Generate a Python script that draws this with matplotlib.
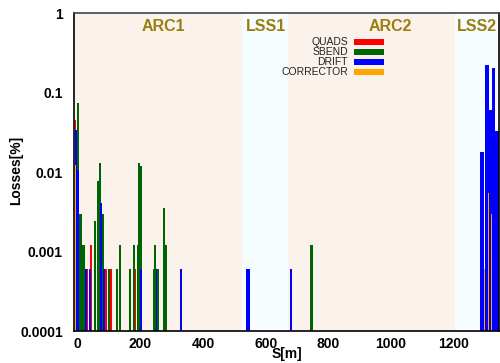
import matplotlib
matplotlib.use('Agg')
import matplotlib.pyplot as plt

# Loss data (S in m, losses in %)
quads_s = [-6.5, 31.5, 43, 91, 107, 185]
quads_v = [0.045, 0.0006, 0.0012, 0.0006, 0.0006, 0.0006]

sbend_s = [3, 10, 19, 55, 65, 72, 82, 101, 126, 136, 168, 180, 192, 196,
           201, 243, 247, 258, 275, 281, 746]
sbend_v = [0.073, 0.003, 0.0012, 0.0024, 0.0078, 0.0131, 0.003, 0.0006,
           0.0006, 0.0012, 0.0006, 0.0012, 0.0012, 0.013, 0.0119, 0.0006,
           0.0012, 0.0006, 0.0035, 0.0012, 0.0012]

drift_s = [-4.5, 3, 27, 39, 75, 84, 203, 252, 330, 540, 546, 680,
           1288, 1294, 1302, 1308, 1314, 1318, 1324, 1329, 1335, 1341]
drift_v = [0.034, 0.0106, 0.0006, 0.0006, 0.0041, 0.0006, 0.0006, 0.0006,
           0.0006, 0.0006, 0.0006, 0.0006,
           0.018, 0.018, 0.22, 0.22, 0.06, 0.06, 0.205, 0.205, 0.033, 0.033]

corr_s = [-7, 1297.5, 1311, 1321]
corr_v = [0.0122, 0.0006, 0.0054, 0.003]

regions = ['ARC1', 'LSS1', 'ARC2', 'LSS2']
region_start = [-11, 525, 670, 1203]
region_end = [525, 670, 1203, 1344]
region_label_s = [273, 600, 996, 1275]

plt.rcParams['font.family'] = ['Liberation Sans', 'DejaVu Sans']

fig = plt.figure(figsize=(5, 3.63), dpi=100)
ax = fig.add_axes([0.148, 0.088, 0.85, 0.876])

# region shading
for name, a, b, xs in zip(regions, region_start, region_end, region_label_s):
    col = '#faf2eb' if name.startswith('ARC') else '#f6fdff'
    ax.axvspan(a, b, color=col, lw=0, zorder=0)
    ax.text(xs, 0.67, name, ha='center', va='center', fontsize=11.5,
            fontweight='bold', color='#9a7e10', zorder=5)

# bars
series = [(quads_s, quads_v, '#ff0000', 4, 'QUADS'),
          (sbend_s, sbend_v, '#006400', 7, 'SBEND'),
          (drift_s, drift_v, '#0000ff', 6, 'DRIFT'),
          (corr_s, corr_v, '#ffa500', 3.5, 'CORRECTOR')]
for s, v, c, w, lab in series:
    ax.bar(s, v, width=w, bottom=1e-5, color=c, lw=0, zorder=2)

# legend drawn like gnuplot key: label then colour swatch
for i, (s, v, c, w, lab) in enumerate(series):
    yy = 1 - (41.7 + 10.2 * i - 13) / 318.0
    ax.text(0.6447, yy, lab, transform=ax.transAxes, ha='right', va='center',
            fontsize=7.5, color='#222222', zorder=6)
    ax.add_patch(plt.Rectangle((0.6588, yy - 0.0095), 0.0715, 0.019,
                               transform=ax.transAxes, color=c, lw=0, zorder=6))

ax.set_yscale('log')
ax.set_ylim(1e-4, 1)
ax.set_xlim(-11, 1344)
ax.set_yticks([1e-4, 1e-3, 1e-2, 1e-1, 1])
ax.set_yticklabels(['0.0001', '0.001', '0.01', '0.1', '1'])
ax.yaxis.set_minor_locator(matplotlib.ticker.NullLocator())
ax.set_xticks([0, 200, 400, 600, 800, 1000, 1200])
ax.tick_params(axis='both', length=0, labelsize=10)
ax.tick_params(axis='y', pad=8)
ax.tick_params(axis='x', pad=4)
for lbl in ax.get_xticklabels() + ax.get_yticklabels():
    lbl.set_fontweight('bold')
for sp in ax.spines.values():
    sp.set_linewidth(1.2)
    sp.set_zorder(10)
ax.spines['top'].set_color('#444444')

fig.text(0.574, 0.024, 'S[m]', ha='center', va='center', fontsize=10,
         fontweight='bold')
fig.text(0.033, 0.53, 'Losses[%]', ha='center', va='center', fontsize=10,
         fontweight='bold', rotation=90)

fig.savefig('out.png', dpi=100)
